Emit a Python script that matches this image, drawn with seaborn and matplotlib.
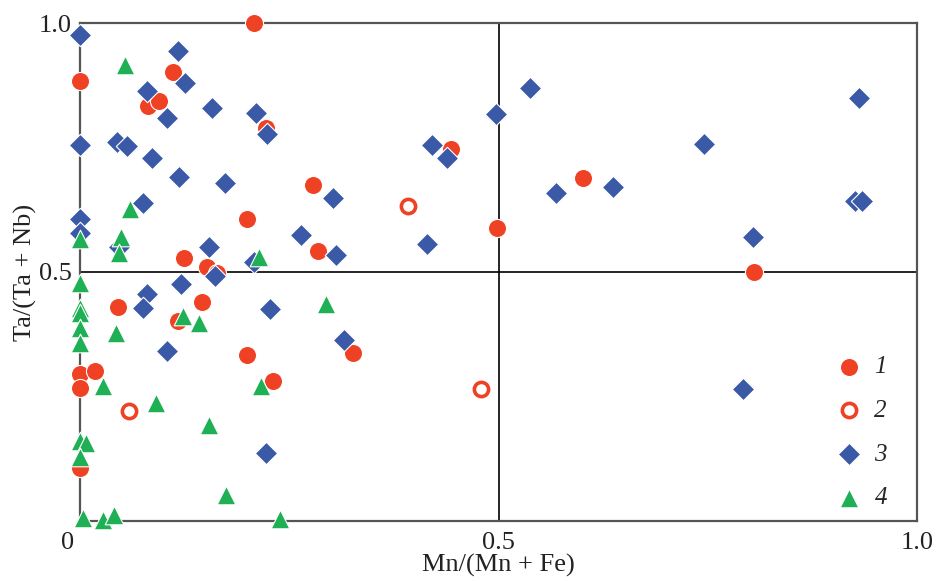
import numpy as np
import pandas as pd
import matplotlib
matplotlib.use("Agg")
import matplotlib.pyplot as plt
import matplotlib.transforms as mtrans
import seaborn as sns

# group 1 - filled red circles
g1_x = [0.208, 0.0, 0.111, 0.081, 0.094, 0.222, 0.443, 0.278, 0.601, 0.200, 0.498, 0.284, 0.124,
        0.152, 0.164, 0.805, 0.045, 0.146, 0.117, 0.200, 0.326, 0.231, 0.0, 0.018, 0.0, 0.0]
g1_y = [1.0, 0.884, 0.902, 0.833, 0.843, 0.789, 0.747, 0.675, 0.689, 0.606, 0.588, 0.542, 0.528,
        0.510, 0.498, 0.500, 0.430, 0.440, 0.402, 0.333, 0.337, 0.281, 0.295, 0.301, 0.267, 0.106]

# group 2 - open red circles
g2_x = [0.392, 0.059, 0.479]
g2_y = [0.633, 0.221, 0.265]

# group 3 - blue diamonds
g3_x = [0.0, 0.117, 0.125, 0.080, 0.104, 0.158, 0.210, 0.223, 0.0, 0.044, 0.056, 0.086, 0.118,
        0.173, 0.075, 0.0, 0.0, 0.046, 0.154, 0.264, 0.208, 0.161, 0.538, 0.497, 0.421, 0.438,
        0.569, 0.637, 0.302, 0.306, 0.415, 0.931, 0.745, 0.926, 0.934, 0.804, 0.792, 0.121,
        0.080, 0.075, 0.227, 0.104, 0.222, 0.315]
g3_y = [0.976, 0.944, 0.880, 0.864, 0.809, 0.829, 0.819, 0.777, 0.755, 0.761, 0.753, 0.729, 0.691,
        0.679, 0.639, 0.606, 0.578, 0.550, 0.550, 0.574, 0.520, 0.492, 0.870, 0.817, 0.755, 0.729,
        0.659, 0.670, 0.649, 0.534, 0.556, 0.850, 0.757, 0.643, 0.643, 0.570, 0.265, 0.476,
        0.456, 0.428, 0.426, 0.341, 0.137, 0.363]

# group 4 - green triangles
g4_x = [0.054, 0.060, 0.0, 0.049, 0.047, 0.214, 0.0, 0.0, 0.0, 0.0, 0.0, 0.043, 0.123, 0.142,
        0.027, 0.091, 0.216, 0.154, 0.0, 0.007, 0.0, 0.174, 0.003, 0.027, 0.040, 0.239, 0.294]
g4_y = [0.916, 0.627, 0.566, 0.570, 0.538, 0.530, 0.478, 0.428, 0.418, 0.388, 0.357, 0.377, 0.412,
        0.397, 0.271, 0.237, 0.271, 0.193, 0.161, 0.157, 0.128, 0.052, 0.006, 0.002, 0.012, 0.004,
        0.436]

labels = ["1", "2", "3", "4"]

red = "#ef4123"
blue = "#3a5aa8"
green = "#1fb055"

sns.set_style("white")
plt.rcParams["font.family"] = ["Liberation Serif", "DejaVu Serif"]

fig = plt.figure(figsize=(9.36, 5.81), dpi=100)
ax = fig.add_axes([0.0855, 0.1033, 0.8942, 0.8571])

sns.scatterplot(x=g1_x, y=g1_y, ax=ax, marker="o", s=170, color=red,
                edgecolor="white", linewidth=0.8, label=labels[0], clip_on=False, zorder=3)
sns.scatterplot(x=g2_x, y=g2_y, ax=ax, marker="o", s=105, facecolor="white",
                edgecolor=red, linewidth=2.6, label=labels[1], clip_on=False, zorder=3)
sns.scatterplot(x=g3_x, y=g3_y, ax=ax, marker="D", s=130, color=blue,
                edgecolor="white", linewidth=0.8, label=labels[2], clip_on=False, zorder=4)
sns.scatterplot(x=g4_x, y=g4_y, ax=ax, marker="^", s=180, color=green,
                edgecolor="white", linewidth=0.8, label=labels[3], clip_on=False, zorder=5)

ax.set_xlim(0, 1)
ax.set_ylim(0, 1)
ax.axvline(0.5, color="black", lw=1.2, zorder=1)
ax.axhline(0.5, color="black", lw=1.2, zorder=1)

for sp in ax.spines.values():
    sp.set_color("#555555")
    sp.set_linewidth(1.6)

ax.set_xticks([0, 0.5, 1.0])
ax.set_xticklabels(["0", "0.5", "1.0"])
ax.set_yticks([0.5, 1.0])
ax.set_yticklabels(["0.5", "1.0"])
ax.tick_params(length=0, labelsize=19, colors="#222222", pad=8)
ax.tick_params(axis="y", pad=6)
# the origin label sits a little left of the corner
zero_lbl = ax.get_xticklabels()[0]
zero_lbl.set_horizontalalignment("right")
zero_lbl.set_transform(zero_lbl.get_transform() + mtrans.ScaledTranslation(-4 / 72, 0, fig.dpi_scale_trans))

ax.set_xlabel("Mn/(Mn + Fe)", fontsize=19, labelpad=0, color="#222222")
ax.set_ylabel("Ta/(Ta + Nb)", fontsize=19, labelpad=1, color="#222222")

leg = ax.legend(loc="lower right", bbox_to_anchor=(0.985, -0.012), frameon=False,
                prop={"family": "Liberation Serif", "style": "italic", "size": 18},
                labelspacing=0.85, handlelength=0.8, handletextpad=0.6, borderaxespad=0.3)

fig.savefig("out.png", dpi=100)
